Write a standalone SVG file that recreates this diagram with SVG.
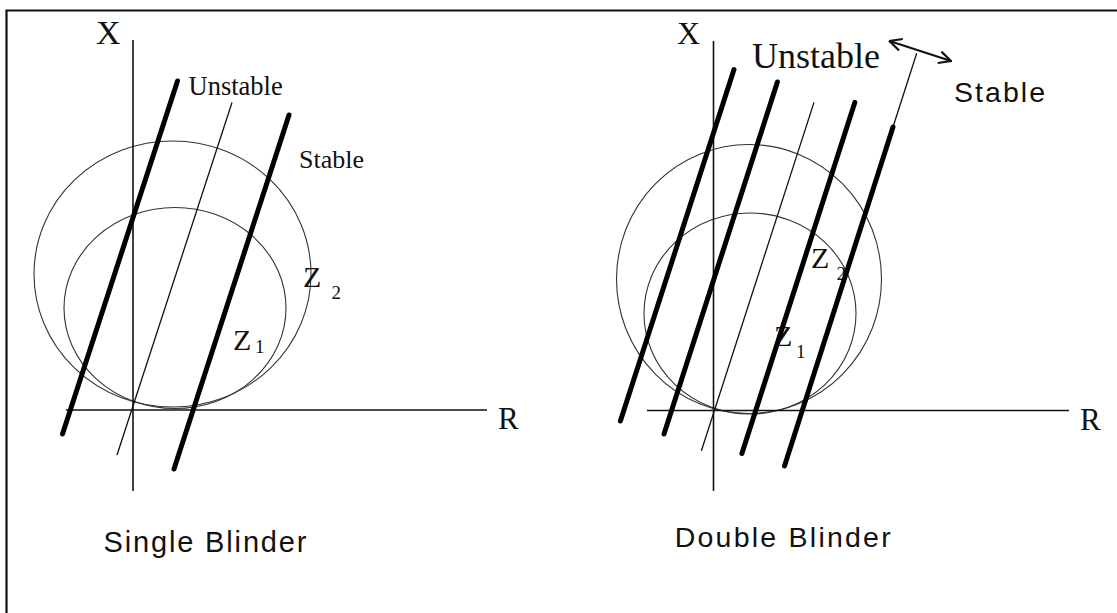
<svg xmlns="http://www.w3.org/2000/svg" width="1117" height="613" viewBox="0 0 1117 613">
<style>
.frame{fill:none;stroke:#111;stroke-width:2.2}
.axis{stroke:#111;stroke-width:1.6;fill:none}
.circ{fill:none;stroke:#333;stroke-width:1.1}
.thick{stroke:#000;stroke-width:5;stroke-linecap:round;fill:none}
.thin{stroke:#111;stroke-width:1.3;fill:none}
.serif{font-family:"Liberation Serif","Times New Roman",serif;fill:#111}
.sans{font-family:"Liberation Sans",Arial,sans-serif;fill:#111}
</style>
<defs>
<marker id="vh" viewBox="0 0 14 14" refX="13" refY="7" markerWidth="14" markerHeight="14" markerUnits="userSpaceOnUse" orient="auto-start-reverse">
<path d="M1,1 L13,7 L1,13" fill="none" stroke="#111" stroke-width="2.2"/>
</marker>
</defs>
<rect width="1117" height="613" fill="#fff"/>
<path class="frame" d="M6.5,613 L6.5,10.5 L1117,10.5"/>

<g id="single-blinder">
<g id="left-circles">
<ellipse class="circ" cx="172.5" cy="274" rx="138.5" ry="133"/>
<ellipse class="circ" cx="175" cy="308" rx="111" ry="100.5"/>
</g>
<g id="left-axes">
<line class="axis" x1="133" y1="40" x2="133" y2="491"/>
<line class="axis" x1="66" y1="410" x2="487" y2="410"/>
<text class="serif" x="96" y="44" font-size="34">X</text>
<text class="serif" x="498" y="429" font-size="31">R</text>
</g>
<g id="left-labels">
<text class="serif" x="188.5" y="95" font-size="26.5">Unstable</text>
<text class="serif" x="299" y="168" font-size="26">Stable</text>
<text class="serif" x="303" y="287" font-size="30">Z</text>
<text class="serif" x="331.5" y="299" font-size="19">2</text>
<text class="serif" x="233" y="350" font-size="30">Z</text>
<text class="serif" x="255" y="353" font-size="19">1</text>
<text class="sans" x="103.5" y="552" font-size="29" textLength="203" lengthAdjust="spacing">Single Blinder</text>
</g>
</g>

<g id="double-blinder">
<g id="right-circles">
<ellipse class="circ" cx="749" cy="279" rx="132.5" ry="134.5"/>
<ellipse class="circ" cx="750" cy="313.5" rx="106" ry="100.5"/>
</g>
<g id="right-axes">
<line class="axis" x1="713.5" y1="41" x2="713.5" y2="491"/>
<line class="axis" x1="647" y1="410.5" x2="1069" y2="410.5"/>
<text class="serif" x="677" y="44" font-size="32">X</text>
<text class="serif" x="1080" y="430" font-size="31">R</text>
</g>
<g id="right-labels">
<text class="serif" x="752" y="68" font-size="36">Unstable</text>
<text class="sans" x="954" y="101.5" font-size="28.5" textLength="91" lengthAdjust="spacing">Stable</text>
<text class="serif" x="811" y="268" font-size="30">Z</text>
<text class="serif" x="836.5" y="280" font-size="19">2</text>
<text class="serif" x="774" y="346" font-size="30">Z</text>
<text class="serif" x="796" y="358" font-size="19">1</text>
<text class="sans" x="674.7" y="547" font-size="28.5" textLength="216" lengthAdjust="spacing">Double Blinder</text>
</g>
</g>

<g id="connectors">
<line class="thick" x1="177.5" y1="81" x2="62.5" y2="434"/>
<line class="thin" x1="232" y1="102.5" x2="117" y2="455"/>
<line class="thick" x1="289" y1="115" x2="174" y2="469"/>

<line class="thick" x1="734" y1="69.6" x2="620.4" y2="421"/>
<line class="thick" x1="777.4" y1="82" x2="664" y2="434"/>
<line class="thin" x1="814" y1="102.4" x2="701.4" y2="450.7" stroke-width="1"/>
<line class="thick" x1="854.8" y1="102.4" x2="741.9" y2="453.5"/>
<line class="thin" x1="916.7" y1="53.3" x2="893" y2="127" stroke-width="2"/>
<line class="thick" x1="893" y1="127" x2="784.5" y2="466"/>
<path d="M889.5,41 Q917,50 951,61" fill="none" stroke="#111" stroke-width="2" marker-start="url(#vh)" marker-end="url(#vh)"/>
</g>
</svg>
